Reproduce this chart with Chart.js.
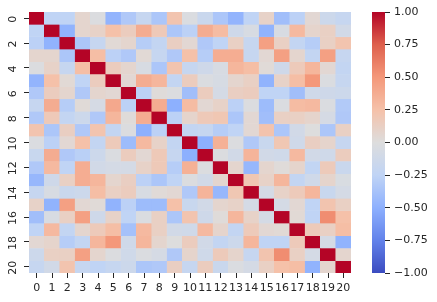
<!DOCTYPE html>
<html>
<head>
<meta charset="utf-8">
<script src="https://cdn.jsdelivr.net/npm/chart.js@4"></script>
<style>
  html, body { margin: 0; padding: 0; background: #fff; }
  #wrap { position: relative; width: 437px; height: 302px; overflow: hidden; }
  canvas { position: absolute; top: 0; }
  #heat { left: 0; }
  #bar { left: 355px; }
</style>
</head>
<body>
<div id="wrap">
  <canvas id="heat" width="355" height="302"></canvas>
  <canvas id="bar" width="82" height="302"></canvas>
</div>
<script>
const categories = ["0","1","2","3","4","5","6","7","8","9","10","11","12","13","14","15","16","17","18","19","20"];
const yTickLabels = [0, 2, 4, 6, 8, 10, 12, 14, 16, 18, 20];
const barTicks = [-1, -0.75, -0.5, -0.25, 0, 0.25, 0.5, 0.75, 1];

// values, one row per line
const row0  = [1,-.25,-.25,.07,-.02,-.47,-.33,-.2,-.35,.22,-.03,-.17,-.35,-.47,-.25,.1,-.4,-.27,.05,-.15,-.2];
const row1  = [-.25,1,-.48,.07,.1,.25,.15,.38,.18,-.35,-.27,.38,.28,-.13,-.05,-.48,-.05,.3,.08,.12,-.1];
const row2  = [-.27,-.48,1,-.35,-.2,.04,.07,-.3,-.22,.13,.05,-.33,-.25,.12,-.2,.45,.12,-.22,-.3,.12,.22];
const row3  = [.07,.07,-.35,1,.27,-.27,-.33,.04,-.2,-.33,.25,-.3,.37,.37,-.2,.05,.45,.07,-.22,.45,-.2];
const row4  = [-.02,.1,-.2,.27,1,.15,.07,-.05,-.35,.22,-.2,-.13,-.05,.32,.27,.03,-.13,.17,.32,.05,-.22];
const row5  = [-.47,.25,.04,-.25,.15,1,.05,.38,.32,-.22,.15,-.03,-.06,.07,.12,-.48,.1,.27,.5,-.03,-.2];
const row6  = [-.33,.15,.07,-.33,.07,.05,1,-.27,.02,-.02,-.4,.15,-.08,.13,.15,-.25,-.25,-.4,-.12,-.13,-.15];
const row7  = [-.2,.38,-.3,.03,-.07,.4,-.27,1,.38,-.5,.28,.05,.1,-.27,-.02,-.42,-.03,.28,.3,-.03,-.32];
const row8  = [-.33,.18,-.22,-.15,-.33,.32,.02,.38,1,-.27,.08,.18,.2,-.35,.05,-.4,.12,.12,.08,-.07,-.33];
const row9  = [.22,-.35,.13,-.33,.22,-.22,-.02,-.5,-.27,1,-.22,-.2,-.3,-.25,.05,.23,-.35,-.1,0,-.35,.12];
const row10 = [-.03,-.27,.05,.25,-.22,.17,-.42,.3,.1,-.22,1,-.5,.35,-.02,-.33,-.18,.2,-.12,.13,.08,-.2];
const row11 = [-.18,.38,-.33,-.28,-.15,-.03,.15,.05,.18,-.2,-.5,1,-.02,-.1,.33,-.1,-.12,.3,-.1,-.12,.15];
const row12 = [-.33,.3,-.25,.37,-.1,-.08,-.08,.1,.18,-.3,.35,-.02,1,.07,-.45,.07,.02,.08,-.23,.17,-.17];
const row13 = [-.45,-.13,.12,.37,.32,.07,.13,-.27,-.35,-.25,-.02,-.1,.07,1,.2,.1,.32,-.22,-.12,.08,-.04];
const row14 = [-.2,-.05,-.17,-.15,.27,.12,.15,-.05,.03,.05,-.33,.33,-.45,.2,1,-.08,.1,.17,.32,-.18,-.08];
const row15 = [.1,-.48,.45,.05,.03,-.48,-.27,-.42,-.42,.25,-.18,-.1,.07,.1,-.08,1,-.08,.05,-.25,.22,.12];
const row16 = [-.4,-.05,.12,.45,-.13,.1,-.25,-.03,.12,-.35,.22,-.13,.02,.32,.1,-.08,1,.04,-.25,.55,.25];
const row17 = [-.25,.3,-.22,.07,.17,.27,-.38,.3,.12,-.1,-.12,.3,.08,-.22,.17,.05,.04,1,.17,.12,.27];
const row18 = [.05,.08,-.3,-.22,.32,.5,-.12,.32,.07,0,.15,-.1,-.22,-.15,.32,-.25,-.25,.17,1,-.08,-.48];
const row19 = [-.15,.12,.12,.45,.07,-.02,-.12,-.03,-.07,-.33,.08,-.12,.17,.08,-.2,.22,.55,.12,-.08,1,.07];
const row20 = [-.2,-.1,.22,-.2,-.25,-.2,-.15,-.35,-.33,.13,-.2,.15,-.17,-.03,-.08,.12,.25,.27,-.48,.07,1];
const rows = [row0,row1,row2,row3,row4,row5,row6,row7,row8,row9,row10,row11,row12,row13,row14,row15,row16,row17,row18,row19,row20];

// coolwarm colormap
const stops = [
  [59,76,192],[98,130,234],[141,176,254],[192,212,245],
  [221,221,221],[245,193,169],[244,152,122],[222,96,77],[180,4,38]
];

function colorFor(v) {
  const t = (Math.max(-1, Math.min(1, v)) + 1) / 2 * (stops.length - 1);
  const i = Math.min(Math.floor(t), stops.length - 2);
  const f = t - i;
  const c = stops[i].map((s, k) => Math.round(s + (stops[i + 1][k] - s) * f));
  return `rgb(${c[0]},${c[1]},${c[2]})`;
}

Chart.defaults.font.family = "'DejaVu Sans'";
Chart.defaults.font.size = 11;
Chart.defaults.color = "#262626";
Chart.defaults.animation = false;

// heatmap: one stacked bar series per row, each segment one cell tall
const heatDatasets = rows.map((row) => {
  const colors = row.map(colorFor);
  return {
    data: row.map(() => 1),
    backgroundColor: colors,
    borderColor: colors,
    borderWidth: 0.4,
    borderSkipped: false,
    barPercentage: 1,
    categoryPercentage: 1,
  };
});

new Chart(document.getElementById("heat"), {
  type: "bar",
  data: { labels: categories, datasets: heatDatasets },
  options: {
    responsive: false,
    layout: { padding: { top: 12, right: 4 } },
    plugins: { legend: { display: false }, tooltip: { enabled: false } },
    scales: {
      x: {
        stacked: true,
        grid: { offset: false, drawOnChartArea: false, tickLength: 5, color: "#262626" },
        border: { display: false },
        ticks: { autoSkip: false, maxRotation: 0, padding: 4 },
        afterFit: (scale) => { scale.height = 29; },
      },
      y: {
        stacked: true,
        reverse: true,
        min: 0,
        max: rows.length,
        grid: { drawOnChartArea: false, tickLength: 5, color: "#262626" },
        border: { display: false },
        ticks: {
          autoSkip: false,
          padding: 4,
          minRotation: 90,
          maxRotation: 90,
          crossAlign: "center",
          labelOffset: 1,
          callback: (v) => v - 0.5,
        },
        afterBuildTicks: (scale) => {
          scale.ticks = yTickLabels.map((n) => ({ value: n + 0.5 }));
        },
        afterFit: (scale) => { scale.width = 29; },
      },
    },
  },
});

// colorbar: a single floating bar with a vertical gradient
const barCanvas = document.getElementById("bar");
const grad = barCanvas.getContext("2d").createLinearGradient(0, 273, 0, 12);
stops.forEach((s, i) => grad.addColorStop(i / (stops.length - 1), `rgb(${s[0]},${s[1]},${s[2]})`));

new Chart(barCanvas, {
  type: "bar",
  data: {
    labels: [""],
    datasets: [{
      data: [[barTicks[0], barTicks[barTicks.length - 1]]],
      backgroundColor: grad,
      borderSkipped: false,
      barPercentage: 1,
      categoryPercentage: 1,
    }],
  },
  options: {
    responsive: false,
    layout: { padding: { top: 12, left: 17, bottom: 29 } },
    plugins: { legend: { display: false }, tooltip: { enabled: false } },
    scales: {
      x: { display: false },
      y: {
        position: "right",
        min: -1,
        max: 1,
        grid: { drawOnChartArea: false, tickLength: 5, color: "#262626" },
        border: { display: false },
        ticks: {
          padding: 4,
          callback: (v) => v.toFixed(2).replace("-", "\u2212"),
        },
        afterBuildTicks: (scale) => {
          scale.ticks = barTicks.map((v) => ({ value: v }));
        },
        afterFit: (scale) => { scale.width = 52; },
      },
    },
  },
});
</script>
</body>
</html>
